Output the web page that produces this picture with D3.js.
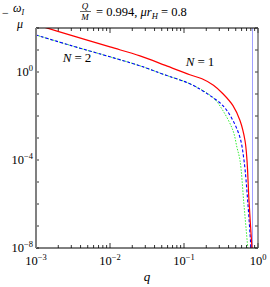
<!DOCTYPE html>
<html lang="en">
<head>
<meta charset="UTF-8">
<title>omega_I vs q</title>
<script src="https://d3js.org/d3.v7.min.js"></script>
<style>
  body { margin: 0; background: #fff; }
</style>
</head>
<body>
<svg width="270" height="287" font-family="'Liberation Serif', 'DejaVu Serif', serif"></svg>
<script>
// values (log-log)
const qRed = [0.001, 0.00316, 0.01, 0.0254, 0.056, 0.12, 0.175, 0.25, 0.336, 0.459, 0.571, 0.667, 0.71, 0.755, 0.84];
const wRed = [141, 44, 13.8, 5.4, 2.0, 0.75, 0.49, 0.25, 0.103, 0.0296, 0.0062, 7.7e-4, 9.6e-5, 1.5e-6, 5e-9];

const qBlue = [0.001, 0.00316, 0.01, 0.0254, 0.056, 0.12, 0.2, 0.336, 0.459, 0.571, 0.647, 0.733, 0.813];
const wBlue = [48, 15, 4.9, 1.91, 0.73, 0.292, 0.11, 0.0296, 0.0062, 1.05e-3, 9.6e-5, 8.9e-7, 5e-9];

const qGreen = [0.001, 0.00316, 0.01, 0.0254, 0.056, 0.12, 0.247, 0.336, 0.459, 0.52, 0.571, 0.647, 0.741];
const wGreen = [48, 15, 4.9, 1.91, 0.73, 0.292, 0.068, 0.0175, 2.18e-3, 3.7e-4, 9.6e-5, 8.9e-7, 5e-9];

const qLimit = 0.843;   // vertical line
const xMajor = [1e-3, 1e-2, 1e-1, 1];
const xExp = ["\u22123", "\u22122", "\u22121", "0"];
const yLabelled = [1e-8, 1e-4, 1];
const yExp = ["\u22128", "\u22124", "0"];

const svg = d3.select("svg");
const L = 36, R = 258, T = 28, B = 248;

const x = d3.scaleLog().domain([1e-3, 1]).range([L, R]);
const y = d3.scaleLog().domain([1e-8, 1e2]).range([B, T]);

svg.append("clipPath").attr("id", "clip")
  .append("rect").attr("x", L).attr("y", T).attr("width", R - L).attr("height", B - T);

// ticks (inward)
let xMinor = [];
for (let e = -3; e < 0; e++) for (let k = 2; k < 10; k++) xMinor.push(k * Math.pow(10, e));
let yTicks = d3.range(-8, 3).map(e => Math.pow(10, e));

const tk = svg.append("g").attr("stroke", "#000").attr("stroke-width", 0.8);
xMinor.concat(xMajor).forEach(t => {
  const len = xMajor.includes(t) ? 5 : 3;
  tk.append("line").attr("x1", x(t)).attr("x2", x(t)).attr("y1", B).attr("y2", B - len);
  tk.append("line").attr("x1", x(t)).attr("x2", x(t)).attr("y1", T).attr("y2", T + len);
});
yTicks.forEach(t => {
  tk.append("line").attr("x1", L).attr("x2", L + 3).attr("y1", y(t)).attr("y2", y(t));
  tk.append("line").attr("x1", R).attr("x2", R - 3).attr("y1", y(t)).attr("y2", y(t));
});

// curves
const line = d3.line().x(d => x(d[0])).y(d => y(d[1])).curve(d3.curveCatmullRom.alpha(0.5));
const g = svg.append("g").attr("clip-path", "url(#clip)").attr("fill", "none");

g.append("line").attr("x1", x(qLimit)).attr("x2", x(qLimit)).attr("y1", T).attr("y2", B)
  .attr("stroke", "#a0a0ff").attr("stroke-width", 1);
g.append("path").attr("d", line(d3.zip(qGreen, wGreen)))
  .attr("stroke", "#33ee33").attr("stroke-width", 1).attr("stroke-dasharray", "1.5,1.5");
g.append("path").attr("d", line(d3.zip(qBlue, wBlue)))
  .attr("stroke", "#0000ff").attr("stroke-width", 1.1).attr("stroke-dasharray", "3,2");
g.append("path").attr("d", line(d3.zip(qRed, wRed)))
  .attr("stroke", "#ff0000").attr("stroke-width", 1.2);

// frame
svg.append("line").attr("x1", L).attr("x2", R).attr("y1", T).attr("y2", T).attr("stroke", "#000").attr("stroke-width", 1);
svg.append("line").attr("x1", L).attr("x2", R).attr("y1", B).attr("y2", B).attr("stroke", "#000").attr("stroke-width", 1);
svg.append("line").attr("x1", L).attr("x2", L).attr("y1", T).attr("y2", B).attr("stroke", "#808080").attr("stroke-width", 2);
svg.append("line").attr("x1", R).attr("x2", R).attr("y1", T).attr("y2", B).attr("stroke", "#555").attr("stroke-width", 1.2);

// tick labels
xMajor.forEach((t, i) => {
  const tx = svg.append("text").attr("x", x(t)).attr("y", 265)
    .attr("text-anchor", "middle").attr("font-size", 12.5);
  tx.append("tspan").text("10");
  tx.append("tspan").attr("dy", -5).attr("font-size", 8.5).text(xExp[i]);
});
yLabelled.forEach((t, i) => {
  const tx = svg.append("text").attr("x", 33).attr("y", y(t) + 4)
    .attr("text-anchor", "end").attr("font-size", 12.5);
  tx.append("tspan").text("10");
  tx.append("tspan").attr("dy", -5).attr("font-size", 8.5).text(yExp[i]);
});

// curve labels
function nLabel(cx, by, n) {
  const t = svg.append("text").attr("x", cx).attr("y", by).attr("text-anchor", "middle").attr("font-size", 13);
  t.append("tspan").attr("font-style", "italic").text("N");
  t.append("tspan").attr("dx", 3).text("=");
  t.append("tspan").attr("dx", 3).text(n);
}
nLabel(77, 62, "2");
nLabel(200, 66, "1");

// axis titles
svg.append("text").attr("x", 147).attr("y", 281).attr("text-anchor", "middle")
  .attr("font-size", 13).attr("font-style", "italic").text("q");

svg.append("text").attr("x", 2).attr("y", 17).attr("font-size", 12).text("\u2212");
const om = svg.append("text").attr("x", 13).attr("y", 12).attr("font-size", 12);
om.append("tspan").attr("font-style", "italic").text("\u03c9");
om.append("tspan").attr("dy", 3).attr("font-size", 8).attr("font-style", "italic").text("I");
svg.append("text").attr("x", 20).attr("y", 28).attr("text-anchor", "middle")
  .attr("font-size", 12).attr("font-style", "italic").text("\u03bc");

// title
svg.append("text").attr("x", 85).attr("y", 8.5).attr("text-anchor", "middle")
  .attr("font-size", 9).attr("font-style", "italic").text("Q");
svg.append("line").attr("x1", 80).attr("x2", 91).attr("y1", 11.5).attr("y2", 11.5)
  .attr("stroke", "#000").attr("stroke-width", 0.6);
svg.append("text").attr("x", 85).attr("y", 19.5).attr("text-anchor", "middle")
  .attr("font-size", 9).attr("font-style", "italic").text("M");
const tt = svg.append("text").attr("x", 96).attr("y", 16).attr("font-size", 12.5);
tt.append("tspan").text("= 0.994, ");
tt.append("tspan").attr("font-style", "italic").text("\u03bcr");
tt.append("tspan").attr("dy", 2.5).attr("font-size", 8.5).attr("font-style", "italic").text("H");
tt.append("tspan").attr("dy", -2.5).text(" = 0.8");
</script>
</body>
</html>
